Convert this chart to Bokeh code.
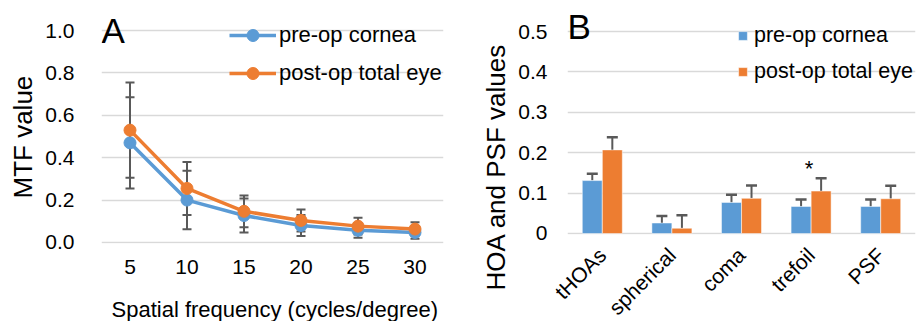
from math import pi
from bokeh.plotting import figure
from bokeh.models import (FactorRange, Range1d, Whisker, TeeHead, ColumnDataSource,
                          Legend, LegendItem, Label, Title, FixedTicker, CustomJSTickFormatter)
from bokeh.layouts import row
from bokeh.transform import dodge
from bokeh.core.properties import value
from bokeh.embed import file_html
from bokeh.resources import INLINE

# ---------------- data: panel A ----------------
freqs = ["5", "10", "15", "20", "25", "30"]
mtf_pre = [0.47, 0.20, 0.127, 0.080, 0.057, 0.047]
mtf_pre_sd = [0.215, 0.138, 0.080, 0.050, 0.035, 0.030]
mtf_post = [0.53, 0.255, 0.147, 0.104, 0.077, 0.063]
mtf_post_sd = [0.225, 0.125, 0.075, 0.052, 0.040, 0.032]

# ---------------- data: panel B ----------------
terms = ["tHOAs", "spherical", "coma", "trefoil", "PSF"]
hoa_pre = [0.131, 0.026, 0.077, 0.067, 0.067]
hoa_pre_sd = [0.017, 0.017, 0.019, 0.017, 0.017]
hoa_post = [0.207, 0.013, 0.087, 0.105, 0.086]
hoa_post_sd = [0.031, 0.032, 0.032, 0.032, 0.032]
signif_term = "trefoil"
signif_y = 0.171

series_names = ["pre-op cornea", "post-op total eye"]
title_a_x = "Spatial frequency (cycles/degree)"
title_a_y = "MTF value"
title_b_y = "HOA and PSF values"

BLUE = "#5B9BD5"
ORANGE = "#ED7D31"
ERR = "#595959"
GRID = "#D9D9D9"
FONT = "Liberation Sans"

def style(p):
    p.outline_line_color = None
    p.background_fill_color = None
    p.border_fill_color = "white"
    p.xgrid.grid_line_color = None
    p.ygrid.grid_line_color = GRID
    p.ygrid.grid_line_width = 1.5
    for ax in (p.xaxis[0], p.yaxis[0]):
        ax.axis_line_color = None
        ax.major_tick_line_color = None
        ax.minor_tick_line_color = None
        ax.major_tick_out = 0
        ax.major_tick_in = 0
        ax.major_label_text_font = FONT
        ax.major_label_text_font_size = "21px"
        ax.major_label_text_color = "black"

def title(text, size, offset, standoff=10):
    return Title(text=text, align="left", offset=offset, standoff=standoff,
                 vertical_align="bottom", text_font=FONT,
                 text_font_size=size, text_font_style="normal", text_color="black")

# ---------------- panel A ----------------
pa = figure(frame_width=342, frame_height=239, x_range=FactorRange(*freqs),
            y_range=Range1d(-0.005, 1.123),
            output_backend="svg", toolbar_location=None,
            min_border_left=100, min_border_right=18, min_border_top=4, min_border_bottom=78)
style(pa)
pa.yaxis.ticker = FixedTicker(ticks=[0, 0.2, 0.4, 0.6, 0.8, 1.0])
pa.yaxis.formatter = CustomJSTickFormatter(code="return tick.toFixed(1)")
pa.yaxis.major_label_standoff = 27
pa.xaxis.major_label_standoff = 16
pa.add_layout(title(title_a_x, "22px", 10, standoff=36), "below")
pa.add_layout(title(title_a_y, "26px", 45), "left")

src_a = ColumnDataSource(dict(
    x=freqs, pre=mtf_pre, post=mtf_post,
    pre_lo=[v - s for v, s in zip(mtf_pre, mtf_pre_sd)],
    pre_hi=[v + s for v, s in zip(mtf_pre, mtf_pre_sd)],
    post_lo=[v - s for v, s in zip(mtf_post, mtf_post_sd)],
    post_hi=[v + s for v, s in zip(mtf_post, mtf_post_sd)],
))
for lo, hi in (("pre_lo", "pre_hi"), ("post_lo", "post_hi")):
    w = Whisker(source=src_a, base="x", lower=lo, upper=hi, line_color=ERR, line_width=2,
                upper_head=TeeHead(size=9, line_color=ERR, line_width=2),
                lower_head=TeeHead(size=9, line_color=ERR, line_width=2))
    pa.add_layout(w)

l1 = pa.line("x", "pre", source=src_a, line_color=BLUE, line_width=3.5)
c1 = pa.scatter("x", "pre", source=src_a, size=12, fill_color=BLUE, line_color=BLUE)
l2 = pa.line("x", "post", source=src_a, line_color=ORANGE, line_width=3.5)
c2 = pa.scatter("x", "post", source=src_a, size=12, fill_color=ORANGE, line_color=ORANGE)

leg_a = Legend(items=[LegendItem(label=series_names[0], renderers=[l1, c1]),
                      LegendItem(label=series_names[1], renderers=[l2, c2])],
               location=(128, 155), orientation="vertical",
               background_fill_alpha=0, border_line_color=None,
               padding=0, margin=0, spacing=8, glyph_width=47, glyph_height=30,
               label_standoff=3, label_text_font=FONT, label_text_font_size="22px",
               label_text_color="black", label_height=30)
pa.add_layout(leg_a)
pa.add_layout(Label(x=0, y=1.092, text="A", text_font=FONT, text_font_size="35px",
                    text_align="left", text_baseline="top", text_color="black"))

# ---------------- panel B ----------------
pb = figure(frame_width=348, frame_height=230, x_range=FactorRange(*terms),
            y_range=Range1d(-0.0025, 0.567),
            output_backend="svg", toolbar_location=None,
            min_border_left=106, min_border_right=6, min_border_top=4, min_border_bottom=87)
style(pb)
pb.yaxis.ticker = FixedTicker(ticks=[0, 0.1, 0.2, 0.3, 0.4, 0.5])
pb.yaxis.formatter = CustomJSTickFormatter(code="return tick == 0 ? '0' : tick.toFixed(1)")
pb.yaxis.major_label_standoff = 20
pb.xaxis.major_label_orientation = pi / 4
pb.xaxis.major_label_standoff = 17
pb.add_layout(title(title_b_y, "26px", -56), "left")

src_b = ColumnDataSource(dict(
    x=terms, pre=hoa_pre, post=hoa_post,
    pre_hi=[v + s for v, s in zip(hoa_pre, hoa_pre_sd)],
    post_hi=[v + s for v, s in zip(hoa_post, hoa_post_sd)],
))
off = 0.144
bw = 0.287
b1 = pb.vbar(x=dodge("x", -off, range=pb.x_range), top="pre", width=bw, source=src_b,
             fill_color=BLUE, line_color="white", line_width=0.5)
b2 = pb.vbar(x=dodge("x", off, range=pb.x_range), top="post", width=bw, source=src_b,
             fill_color=ORANGE, line_color="white", line_width=0.5)
for d, lo, hi in ((-off, "pre", "pre_hi"), (off, "post", "post_hi")):
    w = Whisker(source=src_b, base=dodge("x", d, range=pb.x_range), lower=lo, upper=hi,
                line_color=ERR, line_width=2, lower_head=None,
                upper_head=TeeHead(size=11, line_color=ERR, line_width=2.5))
    pb.add_layout(w)

pb.text(x=[signif_term], y=[signif_y], text=["*"], text_font=value(FONT),
        text_font_size="22px", text_align="center", text_baseline="middle",
        text_color="black", x_offset=-2, y_offset=4)

leg_b = Legend(items=[LegendItem(label=series_names[0], renderers=[b1]),
                      LegendItem(label=series_names[1], renderers=[b2])],
               location=(170, 148), orientation="vertical",
               background_fill_alpha=0, border_line_color=None,
               padding=0, margin=0, spacing=6, glyph_width=11, glyph_height=11,
               label_standoff=6, label_text_font=FONT, label_text_font_size="21.5px",
               label_text_color="black", label_height=30)
pb.add_layout(leg_b)
pb.add_layout(Label(x=0, y=0.5605, text="B", text_font=FONT, text_font_size="35px",
                    text_align="left", text_baseline="top", text_color="black"))

layout = row(pa, pb, spacing=0)
open("out.html", "w").write(file_html(layout, INLINE))
